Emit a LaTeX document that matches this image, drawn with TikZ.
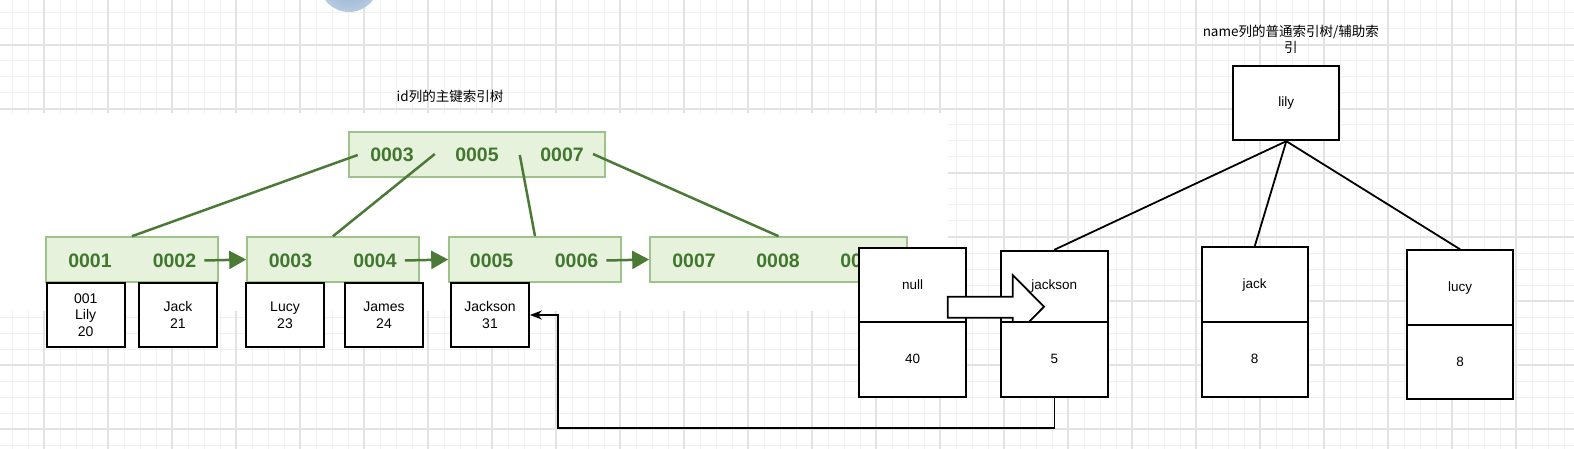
\documentclass[tikz,border=0pt]{standalone}
\usepackage{fontspec}
\setmainfont{Liberation Sans}
\newfontfamily\cjkfont{Noto Sans CJK SC}
\usetikzlibrary{arrows.meta}

\definecolor{gfill}{HTML}{E6F2DC}
\definecolor{gborder}{HTML}{9DC28A}
\definecolor{gtext}{HTML}{42772F}
\definecolor{gline}{HTML}{4B7A37}
\definecolor{gridl}{HTML}{F0F0F0}
\definecolor{gridh}{HTML}{E3E3E3}
\definecolor{blA}{HTML}{8CAACD}
\definecolor{blB}{HTML}{BCCFE3}
\pgfdeclareradialshading{blobshade}{\pgfpoint{0bp}{0bp}}{color(0bp)=(blA); color(28bp)=(blB); color(50bp)=(white)}

\begin{document}
\begin{tikzpicture}[x=1pt,y=-1pt,
  leaf/.style={draw=gborder, fill=gfill, line width=1.6pt, minimum height=45pt, inner sep=0pt},
  gnum/.style={text=gtext, font=\fontsize{19.5}{19.5}\selectfont\bfseries, inner sep=2pt},
  gconn/.style={draw=gline, line width=2.5pt},
  garrow/.style={gconn, -{Triangle[length=17pt,width=18pt]}},
  rec/.style={draw=black, fill=white, line width=1.8pt, inner sep=0pt, font=\fontsize{14}{16.7}\selectfont, align=center},
  cell/.style={rec, font=\fontsize{13.5}{16}\selectfont},
  conn/.style={draw=black, line width=1.8pt},
  ttl/.style={font=\cjkfont\fontsize{13.5}{16}\selectfont, align=center, inner sep=0pt}
]
\useasboundingbox (0,0) rectangle (1574,449);
\fill[white] (0,0) rectangle (1574,449);
% grid
\foreach \x in {12,28,...,1572} \draw[gridl, line width=1pt] (\x,0) -- (\x,449);
\foreach \y in {13,29,...,445} \draw[gridl, line width=1pt] (0,\y) -- (1574,\y);
\foreach \x in {44,108,...,1564} \draw[gridh, line width=1.2pt] (\x,0) -- (\x,449);
\foreach \y in {45,109,...,429} \draw[gridh, line width=1.2pt] (0,\y) -- (1574,\y);
\fill[white] (0,113) rectangle (948,311);
% blue blob at top
\begin{scope}
\clip (0,0) rectangle (1574,449);
\shade[shading=blobshade] (349,-18) circle (30);
\end{scope}

% titles
\node[ttl] (lt) at (450,96) {id列的主键索引树};
\node[ttl] (rt) at (1290.8,39.7) {name列的普通索引树/辅助索\\引};

% primary key tree
\node[leaf, minimum width=256pt] (T) at (477,154.5) {};
\node[gnum] (t1) at (392,155) {0003};
\node[gnum] (t2) at (477,155) {0005};
\node[gnum] (t3) at (562,155) {0007};

\node[leaf, minimum width=172pt] (L1) at (132,259.5) {};
\node[leaf, minimum width=172pt] (L2) at (333,259.5) {};
\node[leaf, minimum width=172pt] (L3) at (535,259.5) {};
\node[leaf, minimum width=257pt] (L4) at (778.5,259.5) {};
\node[gnum] (n1) at (90,260.5) {0001};
\node[gnum] (n2) at (174.5,260.5) {0002};
\node[gnum] (n3) at (290.5,260.5) {0003};
\node[gnum] (n4) at (375,260.5) {0004};
\node[gnum] (n5) at (491.6,260.5) {0005};
\node[gnum] (n6) at (576.5,260.5) {0006};
\node[gnum] (n7) at (694,260.5) {0007};
\node[gnum] (n8) at (778,260.5) {0008};
\node[gnum] (n9) at (862,260.5) {0009};

\coordinate (a1) at (357.7,155);
\coordinate (a2) at (434.8,154);
\coordinate (a3) at (519.8,155);
\coordinate (a4) at (593,154);
\draw[gconn] (a1) -- (L1.north);
\draw[gconn] (a2) -- (L2.north);
\draw[gconn] (a3) -- (L3.north);
\draw[gconn] (a4) -- (L4.north);
\draw[garrow] ([xshift=6pt]n2.east) -- (L2.west);
\draw[garrow] ([xshift=6pt]n4.east) -- (L3.west);
\draw[garrow] ([xshift=6pt]n6.east) -- (L4.west);

% row data boxes
\node[rec, minimum width=78pt, minimum height=63.4pt] (b1) at (85.7,315) {001\\Lily\\20};
\node[rec, minimum width=78pt, minimum height=63.4pt] (b2) at (178,315) {Jack\\21};
\node[rec, minimum width=78pt, minimum height=63.4pt] (b3) at (285,315) {Lucy\\23};
\node[rec, minimum width=78pt, minimum height=63.4pt] (b4) at (384,315) {James\\24};
\node[rec, minimum width=78pt, minimum height=63.4pt] (b5) at (490,315) {Jackson\\31};

% secondary index tree
\node[cell, minimum width=106pt, minimum height=74.6pt] (lily) at (1286.3,103) {lily};

\node[cell, minimum width=106.4pt, minimum height=74pt] (nt) at (912.5,284.7) {null};
\node[cell, minimum width=106.4pt, minimum height=75pt] (nb) at (912.5,359.2) {40};

\node[cell, minimum width=106.7pt, minimum height=71pt] (jt) at (1054.3,286.2) {jackson};
% hollow block arrow
\draw[conn, fill=white, line join=miter] (947.7,296.7) -- (1012.7,296.7) -- (1012.7,275) -- (1044,306.7) -- (1012.7,338.4) -- (1012.7,317.7) -- (947.7,317.7) -- cycle;
\node[cell, minimum width=106.7pt, minimum height=75pt] (jb) at (1054.3,359.2) {5};

\node[cell, minimum width=106pt, minimum height=74.7pt] (kt) at (1254.7,284.65) {jack};
\node[cell, minimum width=106pt, minimum height=74.7pt] (kb) at (1254.7,359.35) {8};

\node[cell, minimum width=106.3pt, minimum height=74.7pt] (ut) at (1460.2,287.65) {lucy};
\node[cell, minimum width=106.3pt, minimum height=74.3pt] (ub) at (1460.2,362.15) {8};

\draw[conn] (lily.south) -- (jt.north);
\draw[conn] (lily.south) -- (kt.north);
\draw[conn] (lily.south) -- (ut.north);

% back reference arrow
\coordinate (c1) at (558,428);
\draw[conn, line width=1.5pt, -{Stealth[length=12pt,width=9pt]}] (jb.south) |- (c1) |- (b5.east);
\end{tikzpicture}
\end{document}
